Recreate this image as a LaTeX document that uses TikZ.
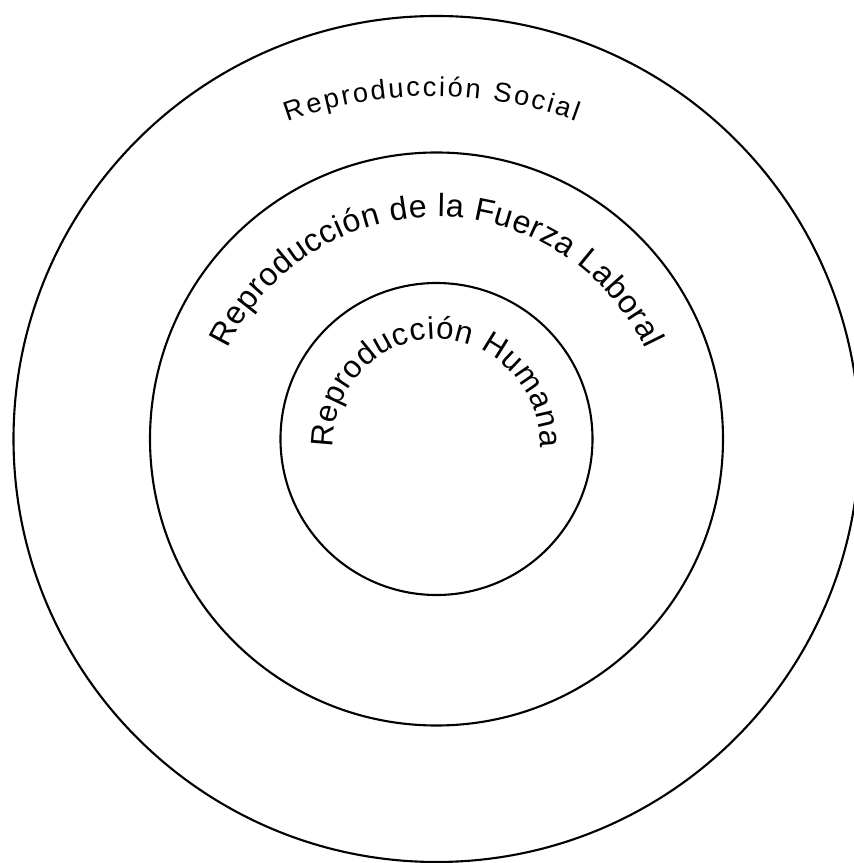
\documentclass[tikz,border=0pt]{standalone}
\usepackage{fontspec}
\setmainfont{Liberation Sans}
\usetikzlibrary{decorations.text}
\begin{document}
\begin{tikzpicture}[x=0.02cm,y=0.02cm,
  ring/.style={draw=black, line width=1.2pt},
  arctext/.style={decorate, decoration={text along path, text align={fit to path}, text={#1}}}]
\useasboundingbox (0,0) rectangle (853,863);
\coordinate (c) at (436.5,424);
\draw[ring] (c) circle[radius=423];
\draw[ring] (c) circle[radius=286.5];
\draw[ring] (c) circle[radius=156];
\coordinate (co) at (432,346);
\coordinate (cm) at (436.5,415);
\coordinate (ci) at (436.5,417);
\path[arctext={|\fontsize{15.5}{17}\selectfont|Reproducción Social}]
  (co) ++(110:421) arc[start angle=110,end angle=70,radius=421];
\path[arctext={|\fontsize{18.3}{20}\selectfont|Reproducción de la Fuerza Laboral}]
  (cm) ++(154.6:231) arc[start angle=154.6,end angle=25.4,radius=231];
\path[arctext={|\fontsize{17.8}{20}\selectfont|Reproducción Humana}]
  (ci) ++(181:103.5 and 107) arc[start angle=181,end angle=-1,x radius=103.5,y radius=107];
\end{tikzpicture}
\end{document}
